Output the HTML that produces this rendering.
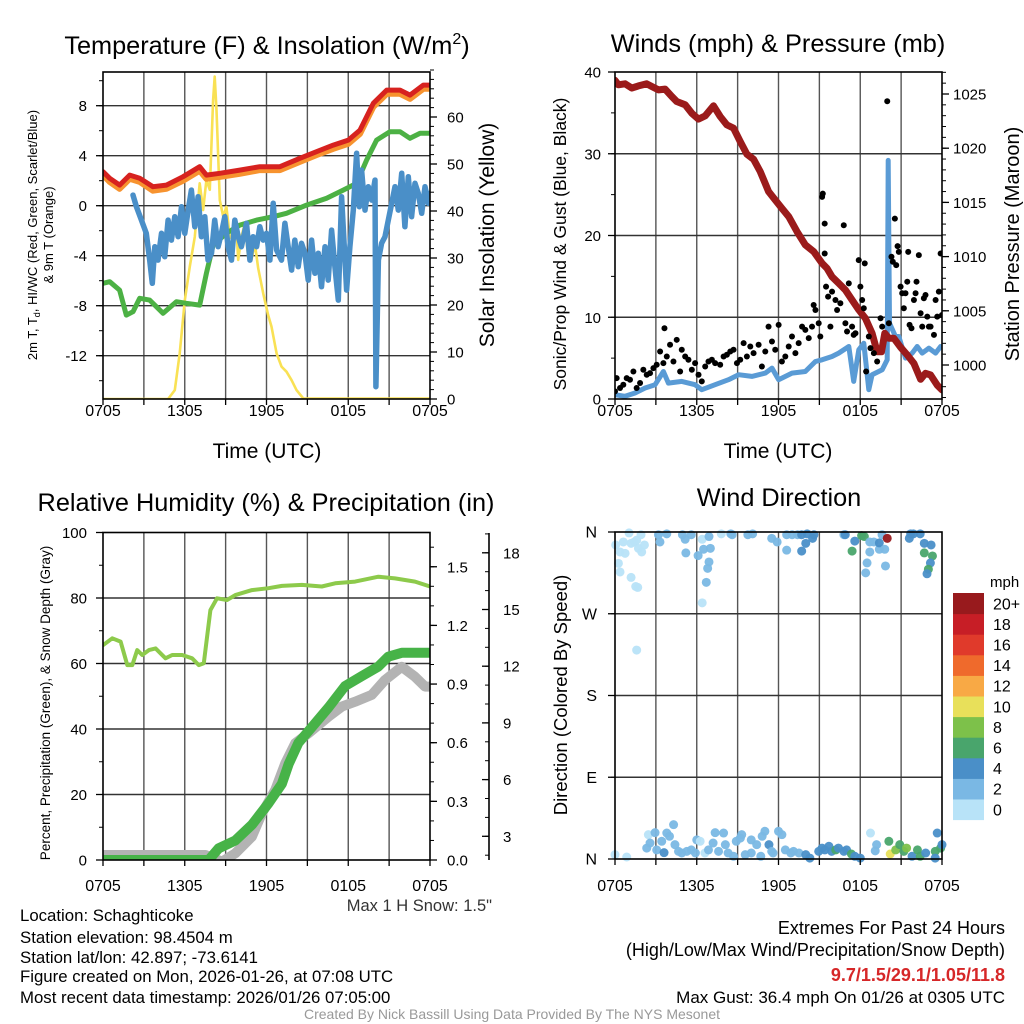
<!DOCTYPE html>
<html><head><meta charset="utf-8"><title>Mesonet Meteogram</title>
<style>
html,body{margin:0;padding:0;background:#fff;}
svg{display:block;font-family:"Liberation Sans",Arial,sans-serif;}
</style></head>
<body>
<svg id="fig" width="1024" height="1024" viewBox="0 0 1024 1024" xmlns="http://www.w3.org/2000/svg">
<rect x="0" y="0" width="1024" height="1024" fill="#fff"/>
<defs>
<clipPath id="c1"><rect x="103" y="72" width="327" height="327"/></clipPath>
<clipPath id="c2"><rect x="615" y="72" width="327" height="327"/></clipPath>
<clipPath id="c3"><rect x="103" y="532.5" width="327" height="327.5"/></clipPath>
<clipPath id="c4"><rect x="610" y="526" width="337" height="338"/></clipPath>
</defs>
<g id="layer"></g>
<!-- titles -->
<text x="267" y="54" font-size="25.3" text-anchor="middle">Temperature (F) &amp; Insolation (W/m<tspan font-size="16" dy="-10">2</tspan><tspan dy="10">)</tspan></text>
<text x="778" y="52" font-size="25.3" text-anchor="middle">Winds (mph) &amp; Pressure (mb)</text>
<text x="266" y="511" font-size="25.3" text-anchor="middle">Relative Humidity (%) &amp; Precipitation (in)</text>
<text x="779" y="506" font-size="25.3" text-anchor="middle">Wind Direction</text>
<!-- axis titles -->
<text transform="translate(37,235) rotate(-90)" font-size="13" text-anchor="middle">2m T, T<tspan font-size="9" dy="3">d</tspan><tspan dy="-3">, HI/WC (Red, Green, Scarlet/Blue)</tspan></text>
<text transform="translate(53,235) rotate(-90)" font-size="13" text-anchor="middle">&amp; 9m T (Orange)</text>
<text transform="translate(494,235) rotate(-90)" font-size="21" text-anchor="middle">Solar Insolation (Yellow)</text>
<text transform="translate(566,244) rotate(-90)" font-size="17.5" text-anchor="middle">Sonic/Prop Wind &amp; Gust (Blue, Black)</text>
<text transform="translate(1019,244) rotate(-90)" font-size="20" text-anchor="middle">Station Pressure (Maroon)</text>
<text transform="translate(50,703) rotate(-90)" font-size="13.5" text-anchor="middle">Percent, Precipitation (Green), &amp; Snow Depth (Gray)</text>
<text transform="translate(567,695) rotate(-90)" font-size="18.5" text-anchor="middle">Direction (Colored By Speed)</text>
<text x="267" y="458" font-size="21" text-anchor="middle">Time (UTC)</text>
<text x="778" y="458" font-size="21" text-anchor="middle">Time (UTC)</text>
<text x="492" y="911" font-size="16.5" text-anchor="end" fill="#333">Max 1 H Snow: 1.5"</text>
<!-- colorbar label -->
<text x="990" y="587" font-size="15">mph</text>
<!-- footer -->
<g font-size="16.8">
<text x="20" y="921">Location: Schaghticoke</text>
<text x="20" y="943">Station elevation: 98.4504 m</text>
<text x="20" y="963">Station lat/lon: 42.897; -73.6141</text>
<text x="20" y="982">Figure created on Mon, 2026-01-26, at 07:08 UTC</text>
<text x="20" y="1003">Most recent data timestamp: 2026/01/26 07:05:00</text>
</g>
<g font-size="18" text-anchor="end">
<text x="1005" y="934">Extremes For Past 24 Hours</text>
<text x="1005" y="956">(High/Low/Max Wind/Precipitation/Snow Depth)</text>
<text x="1005" y="981" fill="#d62728" font-weight="bold">9.7/1.5/29.1/1.05/11.8</text>
<text x="1005" y="1003" font-size="17">Max Gust: 36.4 mph On 01/26 at 0305 UTC</text>
</g>
<text x="512" y="1019" font-size="14" fill="#999" text-anchor="middle">Created By Nick Bassill Using Data Provided By The NYS Mesonet</text>
</svg>
<script>
// ---------- data ----------
const xTickLabels = ["0705","1305","1905","0105","0705"];
const xTickHours = [0,6,12,18,24];
// Panel 1
const tempHours = [0,0.49,1.22,1.96,2.69,3.67,4.65,5.88,7.1,7.59,8.57,10.04,11.51,12.98,14.45,15.67,16.9,18.0,18.86,19.84,20.82,21.8,22.53,23.51,24];
const tempVals = [2.72,2.19,1.65,2.45,2.19,1.52,1.65,2.32,3.12,2.45,2.59,2.85,3.12,3.12,3.79,4.32,4.85,5.25,6.05,8.19,9.25,9.25,8.85,9.65,9.65];
const temp9mVals = [2.45,1.9,1.35,2.15,1.9,1.2,1.35,2.0,2.8,2.15,2.3,2.55,2.85,2.85,3.5,4.05,4.55,4.95,5.75,7.9,8.95,8.95,8.55,9.35,9.35];
const dewHours = [0,0.49,1.22,1.71,2.2,2.69,3.43,4.41,5.39,6.12,7.1,7.59,8.08,9.06,10.04,11.27,12.49,13.47,14.94,16.41,17.63,18.61,19.35,20.08,21.06,21.8,22.53,23.27,24];
const dewVals = [-6.21,-6.08,-6.75,-8.75,-8.48,-7.41,-7.55,-8.61,-7.68,-7.81,-7.95,-5.41,-3.15,-2.21,-1.55,-1.15,-0.88,-0.61,0.05,0.59,1.25,1.79,3.65,5.25,5.92,5.92,5.39,5.79,5.79];
const wcHours = [0.73,null,2.2,2.45,2.82,3.18,3.43,3.62,3.8,4.04,4.29,4.53,4.78,5.02,5.27,5.51,5.76,6.0,6.25,6.49,6.74,6.98,7.22,7.47,7.71,7.96,8.2,8.45,8.69,8.94,9.18,9.43,9.67,9.92,10.16,10.53,10.78,11.02,11.27,11.51,11.76,12.0,12.25,12.49,12.74,13.1,13.35,13.59,13.84,14.08,14.33,14.57,14.82,15.06,15.31,15.55,15.8,16.04,16.29,16.53,16.78,17.02,17.27,17.51,17.76,17.88,18.12,18.37,18.61,18.81,18.98,19.23,19.47,19.72,19.96,20.03,20.21,20.45,20.7,20.94,21.19,21.43,21.67,21.92,22.16,22.41,22.65,22.9,23.14,23.39,23.63,23.88,24];
const wcVals = [0.32,null,0.85,-0.08,-1.15,-2.21,-4.35,-6.21,-3.28,-4.35,-2.21,-4.08,-1.15,-2.75,-0.88,-2.48,-0.08,-2.21,-0.35,1.25,-1.68,0.72,-2.48,-0.88,-4.35,-3.81,-1.15,-3.28,-2.21,-0.88,-3.28,-4.35,-1.15,-2.48,-3.28,-1.41,-4.35,-2.48,-3.28,-1.68,-2.75,-2.21,-4.35,0.19,-3.55,-4.35,-1.41,-3.28,-5.15,-2.75,-4.88,-3.01,-3.81,-5.95,-2.75,-5.41,-3.81,-6.48,-3.28,-5.95,-1.95,-4.88,-7.55,0.72,-4.35,-6.75,-3.28,-0.35,4.19,-0.08,2.85,-0.35,1.52,0.45,2.05,-14.48,-4.35,-3.01,-2.48,-1.15,0.19,1.52,-0.35,2.59,-1.68,2.32,-0.88,1.79,0.99,-0.61,1.52,0.19,1.0];
const solHours = [0,4.78,5.27,5.63,6.0,6.37,6.74,6.98,7.1,7.35,7.59,7.84,8.08,8.2,8.33,8.57,8.82,9.06,9.31,9.55,9.8,9.92,10.16,10.41,10.65,10.9,11.14,11.39,11.76,12.12,12.37,12.74,13.1,13.47,13.84,14.2,14.7,24];
const solVals = [0,0,1.9,9.7,21,28.2,34.5,42.3,45.9,40.2,46.6,44.5,63.6,68.6,61.5,42.3,38.8,40.9,34.5,33.8,36,29.6,34.5,37.4,30.3,29.6,33.1,27.8,22.5,17.9,15.4,9.7,6.9,5.8,4.0,1.9,0.1,0.1];
const tempTicks = [-12,-8,-4,0,4,8];
const solTicks = [0,10,20,30,40,50,60];
// Panel 2
const presHours = [0,0.25,0.74,1.23,1.72,2.33,2.7,3.19,3.68,4.17,4.53,5.15,5.64,6.13,6.62,7.23,7.72,8.21,8.7,9.19,9.68,10.17,10.66,11.27,11.76,12.25,12.75,13.36,13.97,14.58,15.2,15.56,15.93,16.42,16.91,17.4,17.89,18.38,18.87,19.24,19.56,19.8,20.1,20.47,20.96,21.45,21.94,22.43,22.79,23.16,23.65,24];
const presVals = [1026.25,1025.85,1025.94,1025.54,1025.75,1025.94,1025.69,1025.38,1025.45,1024.77,1024.31,1024.0,1023.23,1022.68,1022.98,1023.91,1022.92,1022.15,1021.85,1020.62,1019.45,1018.98,1017.85,1016.0,1015.23,1014.46,1013.69,1012.31,1011.08,1010.46,1009.38,1008.92,1008.15,1007.54,1006.92,1006.0,1005.08,1004.31,1002.92,1001.23,1001.23,1002.92,1002.46,1002.46,1001.63,1000.92,1000.15,998.68,999.23,999.08,998.15,997.7];
const windHours = [0,0.74,1.47,2.21,2.94,3.55,3.92,4.9,5.88,6.37,7.35,8.33,9.07,10.05,11.03,11.52,12.01,12.99,13.97,14.71,15.2,15.93,16.42,17.16,17.52,17.89,18.26,18.63,18.87,19.61,19.98,20.05,20.15,20.59,20.83,21.32,21.81,22.18,22.55,23.04,23.53,23.9];
const windVals = [0.53,0.33,0.73,1.34,1.75,3.37,1.95,2.15,1.75,1.14,1.75,2.36,2.97,2.76,3.17,3.78,2.36,3.17,3.37,4.59,4.8,5.2,5.61,6.42,2.15,6.02,6.83,1.14,2.97,3.58,4.8,29.19,9.27,7.64,7.64,5.0,5.61,6.42,5.61,6.22,5.61,6.42];
const gustHours = [0,0.12,0.37,0.61,0.86,1.1,1.35,1.59,1.84,2.08,2.33,2.57,2.82,3.06,3.31,3.55,3.63,3.8,4.04,4.29,4.53,4.78,4.9,5.15,5.39,5.64,5.88,6.13,6.37,6.62,6.86,7.11,7.35,7.72,7.97,8.21,8.46,8.7,8.95,9.19,9.44,9.68,9.93,10.17,10.54,10.78,11.03,11.27,11.52,11.76,12.01,12.25,12.5,12.75,12.99,13.24,13.48,13.73,13.97,14.22,14.46,14.58,14.71,14.95,15.07,15.2,15.25,15.39,15.39,15.49,15.64,15.81,15.93,16.18,16.3,16.54,16.79,16.91,17.03,17.16,17.4,17.52,17.65,17.89,18.01,18.14,18.26,18.33,18.43,18.63,18.75,19.0,19.24,19.49,19.61,19.98,20.1,20.29,20.39,20.54,20.64,20.74,20.83,20.96,21.08,21.2,21.32,21.45,21.52,21.62,21.76,21.94,22.06,22.13,22.3,22.43,22.55,22.67,22.79,22.92,23.04,23.16,23.41,23.53,23.65,23.77,23.9,24.0];
const gustVals = [0.93,2.56,1.34,1.75,2.56,2.36,3.37,1.34,1.95,3.58,2.97,3.17,3.78,4.19,5.81,4.39,8.66,5.2,6.63,4.59,7.24,3.37,6.02,5.2,4.8,3.58,4.39,2.97,2.15,3.98,4.59,4.8,4.39,4.19,5.2,5.41,5.81,6.02,4.39,4.8,6.83,5.2,6.42,5.61,6.63,3.98,5.81,8.86,7.03,6.02,9.07,4.59,5.2,6.42,7.64,5.61,6.83,8.86,8.46,7.44,8.86,11.5,10.89,9.27,7.64,24.72,25.12,21.46,17.8,13.74,12.52,8.86,13.13,12.11,10.89,11.71,21.26,9.27,8.25,14.15,8.86,7.85,8.05,16.99,13.74,12.11,11.1,16.59,3.37,7.64,6.22,5.61,4.59,9.88,8.86,36.42,9.27,17.4,16.79,22.07,16.38,18.7,18.0,13.74,12.93,11.1,12.93,14.35,18.0,9.07,8.66,12.11,12.93,14.35,17.6,10.49,8.86,12.32,12.72,10.08,8.86,8.86,7.85,12.11,10.08,13.13,17.8,10.28];
const windTicks = [0,10,20,30,40];
const presTicks = [1000,1005,1010,1015,1020,1025];
// Panel 3
const rhHours = [0,0.68,1.29,1.78,2.15,2.51,2.88,3.37,3.86,4.59,5.08,5.81,6.54,7.03,7.4,7.88,8.37,9.1,9.71,10.93,12.15,13.13,14.6,16.06,17.04,18.5,20.21,21.43,22.9,24];
const rhVals = [65.6,67.7,66.7,59.5,59.5,64.1,62.6,64.1,64.6,61.6,62.6,62.6,61.6,59.5,60.1,76.3,79.9,79.4,80.9,82.4,83.0,83.7,84.0,83.5,84.5,85.0,86.5,86.0,85.0,83.5];
const precipHours = [0,7.76,8.49,9.71,10.93,12.15,13.13,13.62,14.35,15.33,16.55,17.77,18.99,20.21,20.94,21.92,24];
const precipVals = [0,0,0.06,0.10,0.18,0.29,0.39,0.49,0.60,0.68,0.78,0.89,0.94,0.99,1.04,1.06,1.06];
const snowHours = [0,7.52,8.74,9.71,10.93,11.67,12.64,13.38,14.11,15.08,16.55,17.53,18.5,19.72,20.7,21.92,22.9,23.63,24];
const snowVals = [2.01,2.01,1.66,2.1,2.98,4.22,5.45,6.86,7.92,8.45,9.33,9.86,10.12,10.48,11.27,11.97,11.44,10.92,10.92];
const rhTicks = [0,20,40,60,80,100];
const precipTicks = [0,0.3,0.6,0.9,1.2,1.5];
const precipLabels = ["0.0","0.3","0.6","0.9","1.2","1.5"];
const snowTicks = [3,6,9,12,15,18];
// Panel 4
const dirHours = [0.05,0.37,0.61,0.74,1.03,1.18,1.42,1.59,1.72,1.91,1.96,2.16,0.25,0.37,1.18,1.52,1.67,1.59,
3.19,3.3,3.8,4.95,5.15,5.6,5.2,6.1,6.4,6.5,6.9,7.0,6.9,6.8,6.7,6.4,7.8,8.5,8.6,9.75,10.1,11.5,11.9,12.6,12.6,13.0,13.4,13.7,14.0,14.1,14.5,14.6,13.7,16.8,16.9,17.6,17.4,18.1,18.3,18.5,18.4,18.7,18.7,19.0,19.4,19.4,19.6,19.8,19.85,19.98,21.6,21.7,21.9,22.4,22.7,23.2,22.7,23.3,23.15,23.0,22.9,
0,0.86,2.45,2.57,2.33,2.94,3.06,3.43,3.6,3.8,4.0,4.3,4.4,4.66,4.9,5.27,5.6,6.0,5.9,6.25,6.6,6.86,7.2,7.35,7.6,7.97,8.1,8.3,8.7,8.9,9.2,9.3,9.56,10.0,10.0,10.4,10.7,10.8,11.0,11.3,11.5,11.6,12.0,12.25,12.5,12.9,13.1,13.5,14.0,14.3,14.95,15.2,15.4,15.7,15.9,16.2,16.4,16.8,17.0,17.35,17.6,18.0,18.75,19.1,19.2,20.1,20.2,20.6,20.9,21.2,21.4,21.8,22.2,22.4,22.8,23.5,23.65,23.9,24.0,23.5];
const dirDeg = [345.7,338,349,336.5,359,347.5,349,351,342,357,338,345.7,325.5,316,310,300,299,230,
357,349,358,357,352,357,337,334,352,341,355,342,327,320,304.6,282,358,358,357,357,358,353,349,357,340,357,357,357,347.5,358,353,357,339,357,357,350,339,356,355,326,315,349,338,349,341,348,357,341,322.6,353,353,358,358,358,347.5,345.7,337,333.6,326,319,314,
4.8,2.2,26.8,17.6,12,29,10,19.5,7,28.6,25,37.8,15.8,8.4,6.6,8.4,10,21,6.6,19.5,6.6,10,17.6,29,8.4,28.6,15.8,6.6,3,19.5,23,26.8,4.8,21,6.6,15.8,3,25,30.5,15.8,8.4,6.6,30.5,26.8,10,6.6,8.4,6.6,4.8,1,8.4,12,10,14,8.4,10,12,8.4,10,5.5,3,1,28.6,9,15.8,19.5,5.5,10,15.8,8.4,12,3,10,3,6.6,8.4,28.6,12,15.8,1];
const dirSpd = [1,1,1,1,1,1,1,1,1,1,1,1,1,1,1,1,1,1,
3,3,3,3,3,3,3,3,1,3,3,3,3,3,3,1,1,3,3,3,3,3,3,3,3,3,3,5,5,5,5,5,5,3,5,5,7,7,7,3,3,3,3,3,3,5,3,3,3,21,5,5,5,5,5,5,7,7,5,7,5,
1,1,1,3,3,3,3,3,5,3,3,3,3,3,3,3,3,3,3,1,1,3,3,3,3,3,3,3,3,3,3,3,3,3,3,3,3,3,3,5,3,3,3,3,3,3,3,3,5,5,5,5,5,5,5,7,5,5,5,7,5,5,1,3,3,7,11,9,7,7,9,5,7,7,5,7,5,7,5,5];
const dirTickDeg = [0,90,180,270,360];
const dirTickLabels = ["N","E","S","W","N"];
const cbLabels = ["0","2","4","6","8","10","12","14","16","18","20+"];
const cbColors = ["#b8e3f8","#7ab8e4","#4a8fc8","#49a56c","#7dc14a","#e8e05a","#f8a945","#ef6a2c","#e03a2b","#c71e26","#981a1d"];

// ---------- helpers ----------
const NS="http://www.w3.org/2000/svg";
const layer=document.getElementById('layer');
function mk(tag, attrs, parent){const e=document.createElementNS(NS,tag);for(const k in attrs)e.setAttribute(k,attrs[k]);(parent||layer).appendChild(e);return e;}
const PW=327;
function xs(x0){return h=>x0+h/24*PW;}
const P1={x0:103,x1:430,y0:72,y1:399}, P2={x0:615,x1:942,y0:72,y1:399}, P3={x0:103,x1:430,y0:532.5,y1:860}, P4={x0:615,x1:942,y0:532,y1:859};
const yT=T=>205.7-T*12.5, yS=S=>399-S*4.7, yW=v=>399-v*8.175, yP=p=>365-(p-1000)*10.84;
const yRH=r=>860-r*3.275, yPr=p=>860-p*195.5, ySn=s=>893-s*18.9, yD=d=>859-d/360*327;
function pathD(hs,vs,xf,yf){let d='',pen=false;for(let i=0;i<hs.length;i++){if(hs[i]===null||vs[i]===null){pen=false;continue;}d+=(pen?'L':'M')+xf(hs[i]).toFixed(1)+','+yf(vs[i]).toFixed(1);pen=true;}return d;}

function panelGrid(P,hLines,yf,name){
  const g=mk('g',{});
  
  
  const xf=xs(P.x0);
  for(let h=3;h<24;h+=3){
    const l=mk('line',{x1:xf(h),x2:xf(h),y1:P.y0,y2:P.y1,stroke:'#555','stroke-width':1.4},g);
    
    
  }
  hLines.forEach(v=>{
    const l=mk('line',{x1:P.x0,x2:P.x1,y1:yf(v),y2:yf(v),stroke:'#333','stroke-width':1.4},g);
    
    
  });
}
function frame(P,name){
  const r=mk('rect',{x:P.x0,y:P.y0,width:P.x1-P.x0,height:P.y1-P.y0,fill:'none',stroke:'#000','stroke-width':1.6});
  
  
}
function xAxis(P,name,labY){
  const xf=xs(P.x0);
  for(let h=0;h<=24;h+=3){
    const t=mk('line',{x1:xf(h),x2:xf(h),y1:P.y1,y2:P.y1+6,stroke:'#000','stroke-width':1.3});
    
    
  }
  xTickHours.forEach((h,i)=>{
    const t=mk('text',{x:xf(h),y:labY,'font-size':16,'text-anchor':'middle'});
    t.textContent=xTickLabels[i];
    
    
  });
}
function yAxis(xAxisPos,dir,majors,labels,minorFrom,minorTo,minorStep,yf,labX,anchor,name,fs){
  for(let v=minorFrom;v<=minorTo+1e-9;v+=minorStep){
    const y=yf(v);
    const t=mk('line',{x1:xAxisPos,x2:xAxisPos+dir*4,y1:y,y2:y,stroke:'#000','stroke-width':1});
    
    
  }
  majors.forEach((v,i)=>{
    const y=yf(v);
    const t=mk('line',{x1:xAxisPos,x2:xAxisPos+dir*7,y1:y,y2:y,stroke:'#000','stroke-width':1.3});
    
    
    const tx=mk('text',{x:labX,y:y+5.5,'font-size':fs||15,'text-anchor':anchor});
    tx.textContent=labels[i];
    
    
  });
}
function series(hs,vs,xf,yf,color,w,clip,name){
  const p=mk('path',{d:pathD(hs,vs,xf,yf),fill:'none',stroke:color,'stroke-width':w,'stroke-linejoin':'round','stroke-linecap':'round','clip-path':'url(#'+clip+')'});
  
  
  return p;
}

// ---------- Panel 1 ----------
panelGrid(P1,tempTicks,yT,'temperature');
{
  const xf=xs(P1.x0);
  series(solHours,solVals,xf,yS,'#f9e154',2.6,'c1','insolation-line');
  series(dewHours,dewVals,xf,yT,'#4cb144',5,'c1','dewpoint-line');
  series(wcHours,wcVals,xf,yT,'#4a8fc8',5.5,'c1','wind-chill-line');
  series(tempHours,temp9mVals,xf,yT,'#f7932f',6,'c1','temperature-9m-line');
  series(tempHours,tempVals,xf,yT,'#d7221f',5,'c1','temperature-2m-line');
}
frame(P1,'temperature');
yAxis(P1.x0,-1,tempTicks,tempTicks.map(String),-14,10,2,yT,87,'end','temperature-y');
yAxis(P1.x1,1,solTicks,solTicks.map(String),0,70,2,yS,447,'start','insolation-y');
xAxis(P1,'temperature',416);

// ---------- Panel 2 ----------
panelGrid(P2,[10,20,30],yW,'winds');
{
  const xf=xs(P2.x0);
  series(windHours,windVals,xf,yW,'#5a9bd5',5,'c2','sustained-wind-line');
  series(presHours,presVals,xf,yP,'#9b1b1b',7,'c2','pressure-line');
  const g=mk('g',{'clip-path':'url(#c2)'});
  
  
  gustHours.forEach((h,i)=>{
    const c=mk('circle',{cx:xf(h),cy:yW(gustVals[i]),r:3,fill:'#000'},g);
    
    
  });
}
frame(P2,'winds');
yAxis(P2.x0,-1,windTicks,windTicks.map(String),0,40,5,yW,601,'end','wind-y');
yAxis(P2.x1,1,presTicks,presTicks.map(String),997,1027,1,yP,953,'start','pressure-y');
xAxis(P2,'winds',416);

// ---------- Panel 3 ----------
panelGrid(P3,[20,40,60,80],yRH,'humidity');
{
  const xf=xs(P3.x0);
  series(rhHours,rhVals,xf,yRH,'#8dca4b',4,'c3','relative-humidity-line');
  series(snowHours,snowVals,xf,ySn,'#b3b3b3',10,'c3','snow-depth-line');
  series(precipHours,precipVals,xf,yPr,'#47b348',10,'c3','precipitation-line');
}
frame(P3,'humidity');
yAxis(P3.x0,-1,rhTicks,rhTicks.map(String),0,100,10,yRH,87,'end','humidity-y');
yAxis(P3.x1,1,precipTicks,precipLabels,0,1.6,0.1,yPr,447,'start','precipitation-y');
{
  const l=mk('line',{x1:489,x2:489,y1:533,y2:860,stroke:'#000','stroke-width':1.6});
  
  
}
yAxis(489,-1,snowTicks,snowTicks.map(String),2,19,1,ySn,503,'start','snow-depth-y');
xAxis(P3,'humidity',891);

// ---------- Panel 4 ----------
panelGrid(P4,[90,180,270],yD,'direction');
{
  const xf=xs(P4.x0);
  const g=mk('g',{'clip-path':'url(#c4)'});
  
  
  dirHours.forEach((h,i)=>{
    const bin=Math.min(10,Math.floor(dirSpd[i]/2));
    const c=mk('circle',{cx:xf(h),cy:yD(dirDeg[i]),r:4.5,fill:cbColors[bin],'fill-opacity':0.95},g);
    
    
  });
}
frame(P4,'direction');
yAxis(P4.x0,-1,dirTickDeg,dirTickLabels,0,360,90,yD,597,'end','direction-y',16);
xAxis(P4,'direction',891);

// colorbar
{
  const g=mk('g',{});
  
  
  const top=593, bh=20.6;
  cbColors.forEach((c,i)=>{
    const k=cbColors.length-1-i;
    const r=mk('rect',{x:953,y:top+k*bh,width:31,height:bh+0.5,fill:c},g);
    
    
    const t=mk('text',{x:993,y:top+k*bh+bh/2+6,'font-size':16},g);
    t.textContent=cbLabels[i];
    
    
  });
}
</script>
</body></html>
